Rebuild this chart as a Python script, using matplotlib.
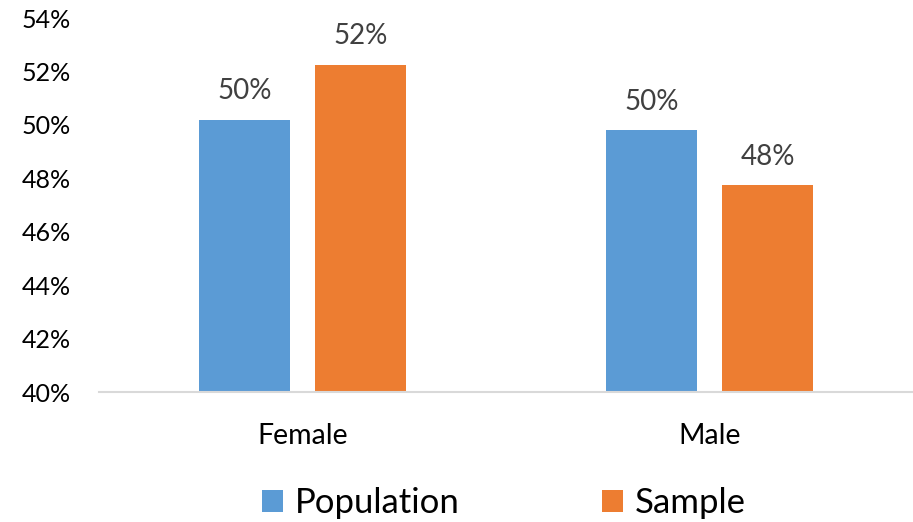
import numpy as np
import matplotlib.pyplot as plt

plt.rcParams['font.family'] = ['Lato', 'DejaVu Sans']

categories = ['Female', 'Male']
population = [50.2, 49.8]
sample = [52.25, 47.75]
series_names = ['Population', 'Sample']
colors = ['#5B9BD5', '#ED7D31']
yticks = [40, 42, 44, 46, 48, 50, 52, 54]

fig = plt.figure(figsize=(9.13, 5.22), dpi=100)
ax = fig.add_axes([99 / 913, 1 - 392 / 522, 814 / 913, 374 / 522])

x = np.arange(len(categories))
w = 0.224
off = 0.1425
bars1 = ax.bar(x - off, np.array(population) - 40, w, bottom=40, color=colors[0], label=series_names[0])
bars2 = ax.bar(x + off, np.array(sample) - 40, w, bottom=40, color=colors[1], label=series_names[1])

for bars, vals in [(bars1, population), (bars2, sample)]:
    for b, v in zip(bars, vals):
        ax.annotate('%d%%' % round(v), (b.get_x() + b.get_width() / 2, v),
                    xytext=(0, 11), textcoords='offset points',
                    ha='center', va='bottom', fontsize=20, color='#404040')

ax.set_xlim(-0.5, 1.5)
ax.set_ylim(40, 54)
ax.set_yticks(yticks)
ax.set_yticklabels(['%d%%' % t for t in yticks], fontsize=18)
ax.set_xticks(x)
ax.set_xticklabels(categories, fontsize=20.5)
ax.tick_params(axis='both', length=0, colors='black')
ax.tick_params(axis='y', pad=20)
ax.tick_params(axis='x', pad=22)
for s in ['top', 'right', 'left']:
    ax.spines[s].set_visible(False)
ax.spines['bottom'].set_color('#D9D9D9')
ax.spines['bottom'].set_linewidth(1.5)

fig.legend(loc='lower center', bbox_to_anchor=(0.552, -0.055), ncol=2, frameon=False,
           fontsize=25, handlelength=0.6, handleheight=0.6, columnspacing=4.1, handletextpad=0.35)

fig.savefig('out.png', dpi=100)
